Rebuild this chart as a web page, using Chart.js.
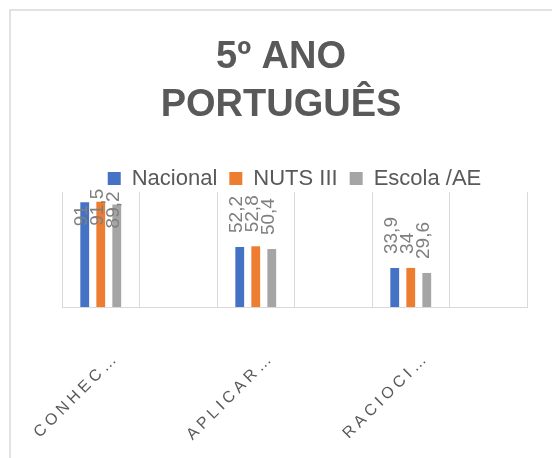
<!DOCTYPE html>
<html>
<head>
<meta charset="utf-8">
<script src="https://cdn.jsdelivr.net/npm/chart.js@4"></script>
<style>
  html, body { margin: 0; padding: 0; background: #fff; }
</style>
</head>
<body>
<canvas id="chart" width="552" height="458"></canvas>
<script>
// data (empty slots keep the gaps between groups)
const categories = ['CONHEC…', '', 'APLICAR…', '', 'RACIOCI…', ''];
const nacional = [91, null, 52.2, null, 33.9, null];
const nutsIII = [91.5, null, 52.8, null, 34, null];
const escola = [89.2, null, 50.4, null, 29.6, null];

Chart.defaults.font.family = '"Liberation Sans", Arial, sans-serif';

// light frame of the chart object
const frame = {
    id: 'frame',
    beforeDraw(chart) {
        const ctx = chart.ctx;
        ctx.save();
        ctx.strokeStyle = '#D9D9D9';
        ctx.lineWidth = 1.5;
        ctx.beginPath();
        ctx.moveTo(10, chart.height);
        ctx.lineTo(10, 10);
        ctx.lineTo(chart.width, 10);
        ctx.stroke();
        ctx.restore();
    }
};

// legend a bit tighter to the plot
const legendTrim = {
    id: 'legendTrim',
    beforeLayout(chart) {
        const lg = chart.legend;
        if (lg && !lg._trimmed) {
            const fit = lg.fit;
            lg.fit = function () { fit.call(this); this.height -= 7.5; };
            lg._trimmed = true;
        }
    }
};

// rotated value labels above the bars
const barLabels = {
    id: 'barLabels',
    afterDatasetsDraw(chart) {
        const {ctx, chartArea} = chart;
        ctx.save();
        ctx.font = '19px "Liberation Sans", Arial, sans-serif';
        ctx.fillStyle = '#7F7F7F';
        ctx.textAlign = 'left';
        ctx.textBaseline = 'middle';
        chart.data.datasets.forEach((ds, i) => {
            chart.getDatasetMeta(i).data.forEach((bar, j) => {
                const v = ds.data[j];
                if (v == null) return;
                const txt = String(v).replace('.', ',');
                const w = ctx.measureText(txt).width;
                let start = bar.y - 14;
                if (start - w < chartArea.top - 7) start = bar.y + 24;
                ctx.save();
                ctx.translate(bar.x - 3, start);
                ctx.rotate(-Math.PI / 2);
                ctx.fillText(txt, 0, 0);
                ctx.restore();
            });
        });
        ctx.restore();
    }
};

// spaced-out category labels at 45 degrees
const tickLabels = {
    id: 'tickLabels',
    afterDraw(chart) {
        const {ctx} = chart;
        const x = chart.scales.x;
        ctx.save();
        ctx.font = '16px "Liberation Sans", Arial, sans-serif';
        ctx.letterSpacing = '4px';
        ctx.fillStyle = '#595959';
        ctx.textAlign = 'right';
        ctx.textBaseline = 'middle';
        chart.data.labels.forEach((c, i) => {
            if (!c) return;
            const px = x.getPixelForValue(i);
            ctx.save();
            ctx.translate(px + 16, x.top + 48);
            ctx.rotate(-Math.PI / 4);
            ctx.fillText(c, 0, 0);
            ctx.restore();
        });
        ctx.restore();
    }
};

const ctx = document.getElementById('chart').getContext('2d');
const chart = new Chart(ctx, {
    type: 'bar',
    data: {
        labels: categories,
        datasets: [
            { label: 'Nacional', data: nacional, backgroundColor: '#4472C4', borderWidth: 0 },
            { label: 'NUTS III', data: nutsIII, backgroundColor: '#ED7D31', borderWidth: 0 },
            { label: 'Escola /AE', data: escola, backgroundColor: '#A5A5A5', borderWidth: 0 }
        ]
    },
    options: {
        responsive: false,
        animation: false,
        categoryPercentage: 0.62,
        barPercentage: 0.55,
        layout: { padding: { left: 10, top: 0, right: 0, bottom: 0 } },
        plugins: {
            title: {
                display: true,
                text: ['5º ANO', 'PORTUGUÊS'],
                color: '#595959',
                font: { size: 38, weight: 'bold', lineHeight: 48 / 38 },
                padding: { top: 34, bottom: 25.5 }
            },
            legend: {
                position: 'top',
                fullSize: false,
                labels: {
                    color: '#595959',
                    font: { size: 22 },
                    boxWidth: 13,
                    boxHeight: 13,
                    padding: 12
                }
            },
            tooltip: { enabled: false }
        },
        scales: {
            x: {
                grid: { color: '#D9D9D9', offset: true, drawTicks: false },
                border: { color: '#D9D9D9' },
                ticks: { display: false },
                afterFit: s => { s.height = 151; }
            },
            y: {
                min: 0,
                max: 100,
                grid: { display: false },
                border: { display: false },
                ticks: { display: false },
                afterFit: s => { s.width = 52; }
            },
            yRight: {
                position: 'right',
                grid: { display: false },
                border: { display: false },
                ticks: { display: false },
                afterFit: s => { s.width = 25; }
            }
        }
    },
    plugins: [frame, legendTrim, barLabels, tickLabels]
});
</script>
</body>
</html>
